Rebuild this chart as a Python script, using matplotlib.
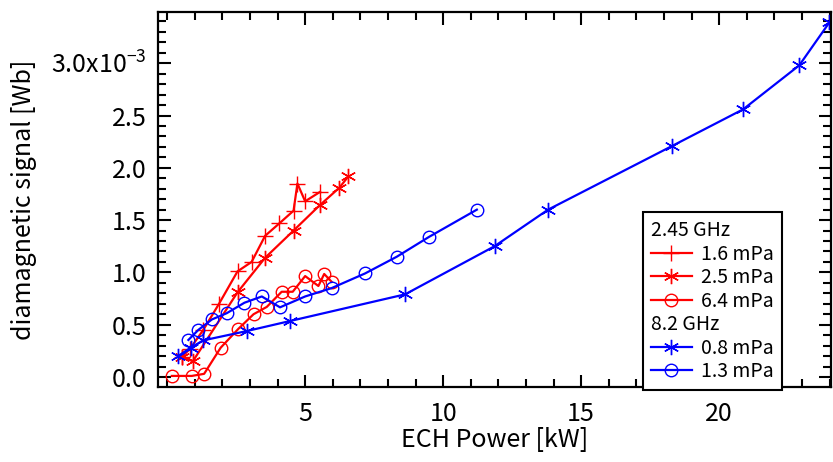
import matplotlib
matplotlib.use("Agg")
import matplotlib.pyplot as plt
from matplotlib.lines import Line2D
from matplotlib.ticker import MultipleLocator, FixedLocator, FixedFormatter

plt.rcParams["font.family"] = ["Noto Sans CJK JP", "DejaVu Sans"]
plt.rcParams["mathtext.default"] = "regular"

# diamagnetic signal in units of 1e-3 Wb, ECH power in kW
# 2.45 GHz, 1.6 mPa
p16_x = [0.53, 0.83, 1.31, 1.88, 2.55, 3.06, 3.55, 4.07, 4.58, 4.72, 5.00, 5.54]
p16_y = [0.19, 0.27, 0.45, 0.70, 1.01, 1.10, 1.35, 1.47, 1.59, 1.85, 1.68, 1.77]
# 2.45 GHz, 2.5 mPa
p25_x = [0.55, 0.93, 2.55, 3.55, 4.58, 5.52, 6.24, 6.57]
p25_y = [0.19, 0.15, 0.81, 1.14, 1.40, 1.64, 1.81, 1.92]
# 2.45 GHz, 6.4 mPa
p64_x = [0.17, 0.89, 1.34, 1.94, 2.58, 3.13, 3.61, 4.15, 4.55, 5.00, 5.48, 5.69, 5.96]
p64_y = [0.01, 0.01, 0.03, 0.28, 0.46, 0.60, 0.67, 0.815, 0.815, 0.965, 0.87, 0.985, 0.91]
# 8.2 GHz, 0.8 mPa
p08_x = [0.40, 0.85, 1.31, 2.90, 4.45, 8.62, 11.86, 13.80, 18.30, 20.87, 22.90, 23.99]
p08_y = [0.20, 0.28, 0.35, 0.44, 0.535, 0.79, 1.25, 1.60, 2.21, 2.56, 2.98, 3.39]
# 8.2 GHz, 1.3 mPa
p13_x = [0.77, 1.13, 1.62, 2.16, 2.80, 3.43, 4.09, 5.00, 5.96, 7.17, 8.32, 9.49, 11.22]
p13_y = [0.354, 0.45, 0.55, 0.61, 0.71, 0.77, 0.666, 0.77, 0.85, 0.99, 1.15, 1.34, 1.60]

ytick_vals = [0.0, 0.5, 1.0, 1.5, 2.0, 2.5, 3.0]
ytick_labels = ["0.0", "0.5", "1.0", "1.5", "2.0", "2.5", "3.0x10$^{-3}$"]
xtick_vals = [5, 10, 15, 20]

RED = "#ff0000"
BLUE = "#0000ff"
STAR = (6, 2, 0)

fig = plt.figure(figsize=(8.33, 4.62), dpi=100)
ax = fig.add_axes([0.1897, 0.1623, 0.8079, 0.8110])

style = dict(lw=1.6, mew=1.0, mfc="none")
l16, = ax.plot(p16_x, p16_y, color=RED, marker="+", ms=11, **style)
l25, = ax.plot(p25_x, p25_y, color=RED, marker=STAR, ms=11, **style)
l64, = ax.plot(p64_x, p64_y, color=RED, marker="o", ms=9, **style)
l08, = ax.plot(p08_x, p08_y, color=BLUE, marker=STAR, ms=11, **style)
l13, = ax.plot(p13_x, p13_y, color=BLUE, marker="o", ms=9, **style)

ax.set_xlim(-0.33, 24.05)
ax.set_ylim(-0.096, 3.487)

ax.xaxis.set_major_locator(FixedLocator(xtick_vals))
ax.xaxis.set_minor_locator(MultipleLocator(1))
ax.yaxis.set_major_locator(FixedLocator(ytick_vals))
ax.yaxis.set_major_formatter(FixedFormatter(ytick_labels))
ax.yaxis.set_minor_locator(MultipleLocator(0.1))

ax.tick_params(which="both", direction="in", top=True, right=True, width=1.5, labelsize=18, colors="black")
ax.tick_params(which="major", length=9)
ax.tick_params(which="minor", length=6)
ax.tick_params(axis="x", pad=10)
ax.tick_params(axis="y", pad=8)
for s in ax.spines.values():
    s.set_linewidth(1.6)

ax.set_xlabel("ECH Power [kW]", fontsize=18, labelpad=0)
ax.set_ylabel("diamagnetic signal [Wb]", fontsize=18, labelpad=10)

blank = Line2D([], [], linestyle="none")
headers = ["2.45 GHz", "8.2 GHz"]
handles = [blank, l16, l25, l64, blank, l08, l13]
labels = [headers[0], "1.6 mPa", "2.5 mPa", "6.4 mPa", headers[1], "0.8 mPa", "1.3 mPa"]
leg = ax.legend(handles, labels, loc="lower left", bbox_to_anchor=(0.7207, -0.008),
                borderaxespad=0, fontsize=14, numpoints=1, handlelength=2.1,
                handletextpad=0.5, labelspacing=0.13, borderpad=0.4,
                fancybox=False, framealpha=1, edgecolor="black")
leg.get_frame().set_linewidth(1.5)
for col in leg._legend_handle_box.get_children():
    for row in col.get_children():
        da, ta = row.get_children()
        if ta.get_text() in headers:
            da.set_width(0)
            row.sep = 0

fig.savefig("out.png", dpi=100)
